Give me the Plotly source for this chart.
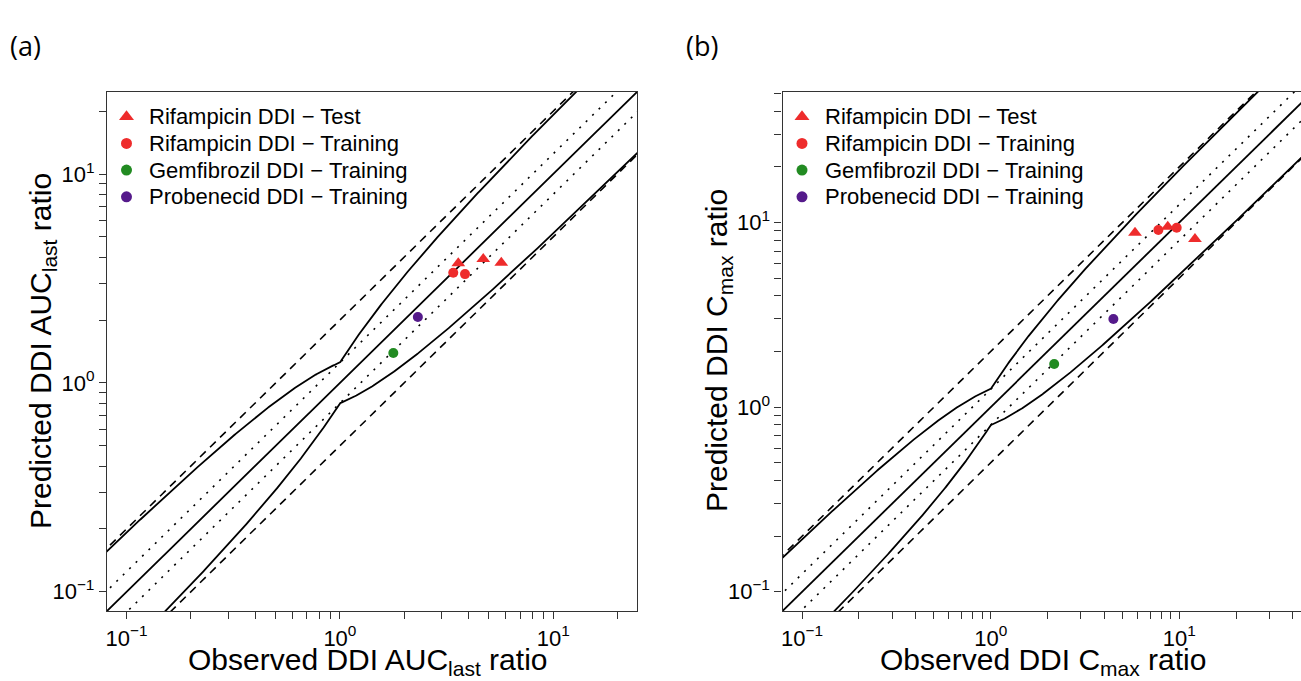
import numpy as np
import plotly.graph_objects as go

# ---- observed / predicted DDI ratios ----
# Panel (a): AUClast ratios
auc_rif_test_obs = [3.59, 4.70, 5.71]
auc_rif_test_pred = [3.74, 3.92, 3.76]
auc_rif_train_obs = [3.40, 3.86]
auc_rif_train_pred = [3.37, 3.32]
auc_gem_obs = [1.78]
auc_gem_pred = [1.39]
auc_pro_obs = [2.32]
auc_pro_pred = [2.07]

# Panel (b): Cmax ratios
cmax_rif_test_obs = [5.82, 8.68, 12.1]
cmax_rif_test_pred = [8.80, 9.48, 8.13]
cmax_rif_train_obs = [7.74, 9.68]
cmax_rif_train_pred = [9.10, 9.36]
cmax_gem_obs = [2.17]
cmax_gem_pred = [1.71]
cmax_pro_obs = [4.47]
cmax_pro_pred = [3.00]

# ---- axis ticks ----
tick_values = [m * 10.0 ** e for e in (-1, 0, 1) for m in range(1, 10)] + [20, 30, 40, 50]
tick_labels = {0.1: "10<sup>\u22121</sup>", 1.0: "10<sup>0</sup>", 10.0: "10<sup>1</sup>"}
tick_text = [tick_labels.get(round(v, 6), "") for v in tick_values]

series_names = [
    "Rifampicin DDI \u2212 Test",
    "Rifampicin DDI \u2212 Training",
    "Gemfibrozil DDI \u2212 Training",
    "Probenecid DDI \u2212 Training",
]
series_symbols = ["triangle-up", "circle", "circle", "circle"]
RED = "#EE2C2C"
GREEN = "#228B22"
PURPLE = "#551A8B"
series_colors = [RED, RED, GREEN, PURPLE]
series_sizes = [12, 10, 10, 10]

FONT = "Liberation Sans, Arial, sans-serif"

# ---- reference lines: unity, 1.25-fold, 2-fold and Guest limits (delta = 1.25) ----
xr = np.logspace(-1.5, 2.0, 700)
delta = 1.25
R = np.where(xr >= 1, xr, 1.0 / xr)
guest = (delta + 2.0 * (R - 1.0)) / R
guest_upper = xr * guest
guest_lower = xr / guest

W, H = 1301, 681
# plot boxes in pixels (left, right, top, bottom)
BOX_A = (107, 637, 92, 611)
BOX_B = (782.5, 1301, 92, 611)


def px_x(p):
    return p / W


def px_y(p):
    return 1 - p / H


fig = go.Figure()


def add_reference(xa, ya):
    solid = dict(color="black", width=1.8)
    dashed = dict(color="black", width=1.6, dash="8px,6px")
    dotted = dict(color="black", width=1.6, dash="2px,7px")
    for yv, ln in [(xr, solid), (xr * 2.0, dashed), (xr / 2.0, dashed),
                   (xr * 1.25, dotted), (xr / 1.25, dotted),
                   (guest_upper, solid), (guest_lower, solid)]:
        fig.add_trace(go.Scatter(x=xr, y=yv, mode="lines", line=ln,
                                 xaxis=xa, yaxis=ya, showlegend=False,
                                 hoverinfo="skip"))


def add_points(xa, ya, sets):
    for name, (ox, py), sym, col, size in zip(series_names, sets, series_symbols,
                                              series_colors, series_sizes):
        fig.add_trace(go.Scatter(x=ox, y=py, mode="markers", name=name,
                                 marker=dict(symbol=sym, color=col, size=size,
                                             line=dict(width=0)),
                                 xaxis=xa, yaxis=ya, showlegend=False))


def add_legend(xa, ya, box):
    # legend keys on a pixel-unit overlay of the panel; labels as annotations
    left, _, top, _ = box
    key_x = left + 19.5
    rows = [top + 24.7 + 26.7 * i for i in range(len(series_names))]
    for i, (sym, col, size) in enumerate(zip(series_symbols, series_colors, series_sizes)):
        fig.add_trace(go.Scatter(x=[key_x], y=[rows[i]], mode="markers",
                                 marker=dict(symbol=sym, color=col, size=size + 1,
                                             line=dict(width=0)),
                                 xaxis=xa, yaxis=ya, showlegend=False,
                                 hoverinfo="skip"))
    return [dict(text=name, x=px_x(key_x + 20.5), y=px_y(ry), xref="paper", yref="paper",
                 xanchor="left", yanchor="middle", showarrow=False,
                 font=dict(family=FONT, size=22, color="black"))
            for name, ry in zip(series_names, rows)]


add_reference("x", "y")
add_points("x", "y", [
    (auc_rif_test_obs, auc_rif_test_pred),
    (auc_rif_train_obs, auc_rif_train_pred),
    (auc_gem_obs, auc_gem_pred),
    (auc_pro_obs, auc_pro_pred),
])
add_reference("x2", "y2")
add_points("x2", "y2", [
    (cmax_rif_test_obs, cmax_rif_test_pred),
    (cmax_rif_train_obs, cmax_rif_train_pred),
    (cmax_gem_obs, cmax_gem_pred),
    (cmax_pro_obs, cmax_pro_pred),
])
legend_a = add_legend("x3", "y3", BOX_A)
legend_b = add_legend("x4", "y4", BOX_B)

axis_common = dict(
    type="log", tickvals=tick_values, ticktext=tick_text,
    ticks="outside", ticklen=7, tickwidth=1.3, tickcolor="#333333",
    showline=True, linecolor="#333333", linewidth=1.3,
    showgrid=False, zeroline=False,
    tickfont=dict(family=FONT, size=22, color="black"),
)
overlay_common = dict(type="linear", visible=False, showgrid=False, zeroline=False,
                      fixedrange=True)

TITLE_FONT = dict(family=FONT, size=30, color="black")
LABEL_FONT = dict(family="Open Sans, sans-serif", size=27, color="black")


def title_ann(text, x, y, angle=0):
    return dict(text=text, x=px_x(x), y=px_y(y), xref="paper", yref="paper",
                xanchor="center", yanchor="middle", textangle=angle,
                showarrow=False, font=TITLE_FONT)


fig.update_layout(
    width=W, height=H,
    margin=dict(l=0, r=0, t=0, b=0),
    paper_bgcolor="white", plot_bgcolor="white",
    showlegend=False,
    xaxis=dict(axis_common, domain=[px_x(BOX_A[0]), px_x(BOX_A[1])], range=[-1.092, 1.393],
               mirror=True, anchor="y"),
    yaxis=dict(axis_common, domain=[px_y(BOX_A[3]), px_y(BOX_A[2])], range=[-1.092, 1.393],
               mirror=True, anchor="x"),
    xaxis2=dict(axis_common, domain=[px_x(BOX_B[0]), 1.0], range=[-1.104, 1.645],
                mirror=True, anchor="y2"),
    yaxis2=dict(axis_common, domain=[px_y(BOX_B[3]), px_y(BOX_B[2])], range=[-1.104, 1.706],
                mirror=False, anchor="x2"),
    xaxis3=dict(overlay_common, overlaying="x", anchor="y3", range=[BOX_A[0], BOX_A[1]]),
    yaxis3=dict(overlay_common, overlaying="y", anchor="x3", range=[BOX_A[3], BOX_A[2]]),
    xaxis4=dict(overlay_common, overlaying="x2", anchor="y4", range=[BOX_B[0], BOX_B[1]]),
    yaxis4=dict(overlay_common, overlaying="y2", anchor="x4", range=[BOX_B[3], BOX_B[2]]),
    annotations=legend_a + legend_b + [
        title_ann("Observed DDI AUC<sub>last</sub> ratio", 367, 661),
        title_ann("Predicted DDI AUC<sub>last</sub> ratio", 42, 351, -90),
        title_ann("Observed DDI C<sub>max</sub> ratio", 1043, 661),
        title_ann("Predicted DDI C<sub>max</sub> ratio", 718, 351, -90),
        dict(text="(a)", x=px_x(8), y=px_y(46), xref="paper", yref="paper",
             xanchor="left", yanchor="middle", showarrow=False, font=LABEL_FONT),
        dict(text="(b)", x=px_x(684), y=px_y(46), xref="paper", yref="paper",
             xanchor="left", yanchor="middle", showarrow=False, font=LABEL_FONT),
    ],
)

fig.write_html("out.html")
